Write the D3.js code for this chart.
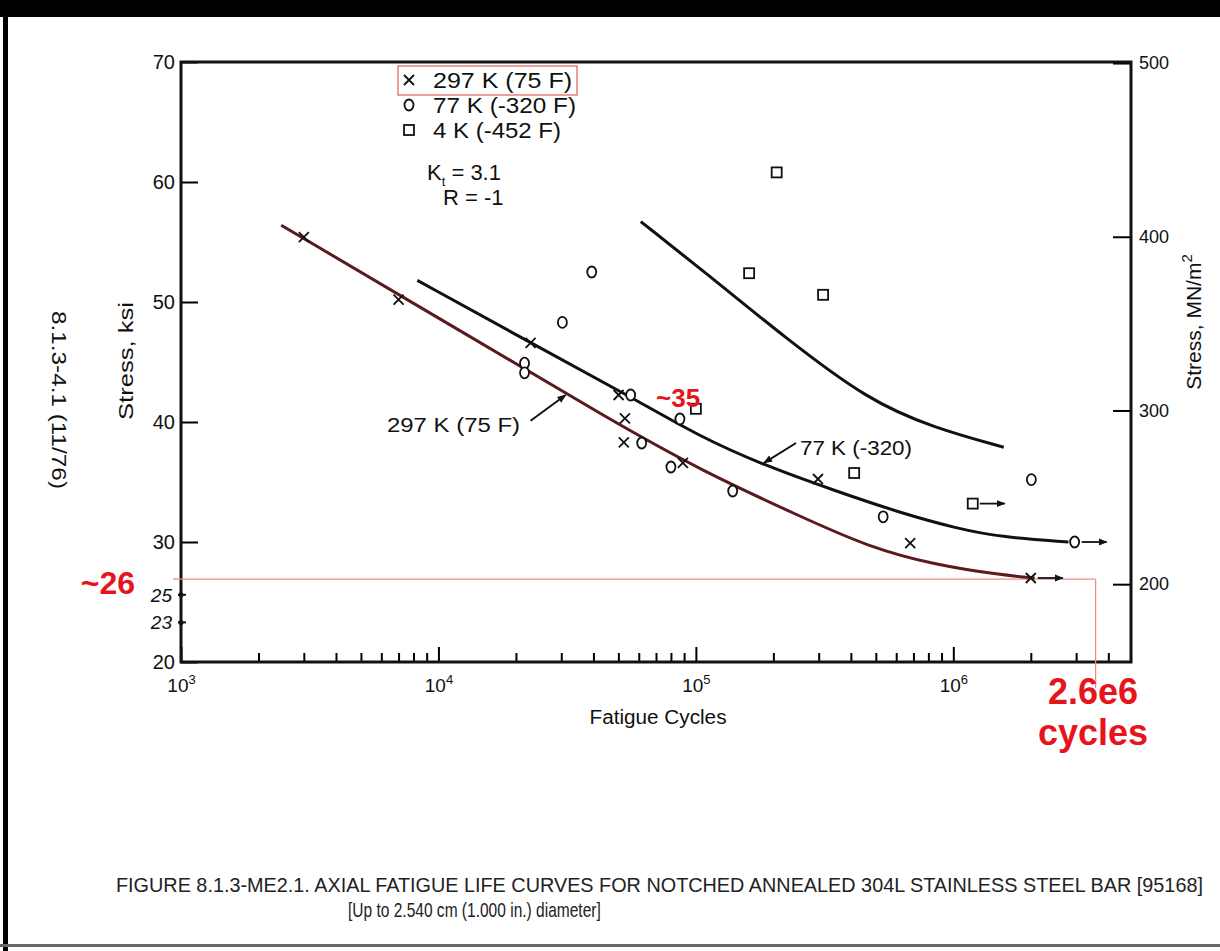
<!DOCTYPE html>
<html>
<head>
<meta charset="utf-8">
<script src="https://cdn.jsdelivr.net/npm/d3@7"></script>
<style>
body { margin: 0; background: #fff; }
text { font-family: "Liberation Sans", Arial, sans-serif; fill: #111; }
</style>
</head>
<body>
<svg width="1220" height="951"></svg>
<script>
// ---- data (cycles, ksi, runout?) ----
var pts297 = [[3.0e3, 55.4], [7.0e3, 50.2], [2.28e4, 46.6], [5.01e4, 42.25], [5.3e4, 40.3],
              [5.25e4, 38.3], [8.9e4, 36.6], [2.98e5, 35.25], [6.8e5, 29.9], [2.0e6, 27.0, true]];
var pts77 = [[2.16e4, 44.9], [2.16e4, 44.1], [3.03e4, 48.3], [3.94e4, 52.5], [5.58e4, 42.25],
             [6.16e4, 38.25], [8.0e4, 36.25], [8.67e4, 40.25], [1.39e5, 34.25], [5.34e5, 32.1],
             [2.01e6, 35.2], [2.96e6, 30.0, true]];
var pts4 = [[1.0e5, 41.1], [1.61e5, 52.4], [2.06e5, 60.8], [3.12e5, 50.6], [4.12e5, 35.75],
            [1.19e6, 33.2, true]];

var curve297 = [[2.45e3, 56.4], [1.11e4, 48.1], [4.8e4, 40.0], [1.04e5, 36.0], [2.56e5, 32.1],
                [4.67e5, 29.6], [8.43e5, 28.1], [1.54e6, 27.25], [2.07e6, 27.0]];
var curve77 = [[8.28e3, 51.8], [2.28e4, 46.6], [5.58e4, 42.1], [1.04e5, 38.75], [1.84e5, 36.4],
               [3.44e5, 34.3], [6.28e5, 32.4], [1.045e6, 31.1], [1.54e6, 30.4], [2.8e6, 30.0]];
var curve4 = [[6.11e4, 56.7], [1.22e5, 51.6], [2.2e5, 47.1], [4.67e5, 41.8], [8.43e5, 39.5],
              [1.57e6, 37.9]];

var ksiTicks = [70, 60, 50, 40, 30, 20];
var mpaTicks = [500, 400, 300, 200];
var decades = [1e3, 1e4, 1e5, 1e6];
var legendNames = ["297 K (75 F)", "77 K (-320 F)", "4 K (-452 F)"];
var handTicks = [[25.6, "25"], [23.3, "23"]];
var annoStress = 26.9, annoCycles = 3.57e6;
var caption = ["FIGURE 8.1.3-ME2.1.  AXIAL FATIGUE LIFE CURVES FOR NOTCHED ANNEALED 304L STAINLESS STEEL BAR [95168]",
               "[Up to 2.540 cm (1.000 in.) diameter]"];

var svg = d3.select("svg");

// page frame of the scan
svg.append("rect").attr("x", 0).attr("y", 0).attr("width", 1220).attr("height", 17).attr("fill", "#000");
svg.append("rect").attr("x", 3).attr("y", 0).attr("width", 5).attr("height", 951).attr("fill", "#000");
svg.append("rect").attr("x", 0).attr("y", 944).attr("width", 1220).attr("height", 3).attr("fill", "#666");

var x = d3.scaleLog().domain([1e3, 4.9e6]).range([181, 1131]);
var y = d3.scaleLinear().domain([20, 70]).range([662, 62]);
var yMpa = d3.scaleLinear().domain([155.2, 500.6]).range([662, 62]);

// minor + major x ticks, pointing up into the plot
var xTicks = [];
decades.forEach(function(d) { for (var k = 1; k < 10; k++) if (d * k < 4.9e6) xTicks.push(d * k); });

var gx = svg.append("g").attr("transform", "translate(0,662)")
  .call(d3.axisBottom(x).tickValues(xTicks).tickSize(-9).tickFormat(""));
gx.select(".domain").remove();
gx.selectAll(".tick line").attr("stroke-width", 2)
  .filter(function(d) { return decades.indexOf(d) >= 0; }).attr("y2", -15);
gx.selectAll(".tick").filter(function(d) { return decades.indexOf(d) >= 0; })
  .append("text").attr("y", 30).attr("text-anchor", "middle").attr("font-size", 19).style("fill", "#111")
  .each(function(d) {
    var t = d3.select(this);
    t.append("tspan").text("10");
    t.append("tspan").attr("dy", -8).attr("font-size", 13).text(Math.round(Math.log10(d)));
  });

var gl = svg.append("g").attr("transform", "translate(181,0)")
  .call(d3.axisLeft(y).tickValues(ksiTicks).tickSize(-17).tickPadding(6));
gl.select(".domain").remove();
gl.selectAll(".tick line").attr("stroke-width", 2);
gl.selectAll(".tick text").attr("font-size", 20).style("fill", "#111");

var gr = svg.append("g").attr("transform", "translate(1131,0)")
  .call(d3.axisRight(yMpa).tickValues(mpaTicks).tickSize(-18).tickPadding(8));
gr.select(".domain").remove();
gr.selectAll(".tick line").attr("stroke-width", 2);
gr.selectAll(".tick text").attr("font-size", 18).style("fill", "#111");

// plot frame
svg.append("rect").attr("x", 181).attr("y", 62).attr("width", 950).attr("height", 600)
  .attr("fill", "none").attr("stroke", "#111").attr("stroke-width", 3);

// hand written ticks on left axis
handTicks.forEach(function(h) {
  svg.append("line").attr("x1", 178).attr("x2", 186).attr("y1", y(h[0])).attr("y2", y(h[0]))
    .attr("stroke", "#111").attr("stroke-width", 2);
  svg.append("circle").attr("cx", 181).attr("cy", y(h[0])).attr("r", 2.5).attr("fill", "#111");
  svg.append("text").attr("x", 172).attr("y", y(h[0]) + 7).attr("text-anchor", "end")
    .attr("font-size", 19).attr("font-family", "DejaVu Sans").attr("font-style", "italic")
    .text(h[1]);
});

// red annotation lines
svg.append("line").attr("x1", 173).attr("x2", x(annoCycles)).attr("y1", y(annoStress)).attr("y2", y(annoStress))
  .attr("stroke", "#f08a8a").attr("stroke-width", 1.3);
svg.append("line").attr("x1", x(annoCycles)).attr("x2", x(annoCycles)).attr("y1", y(annoStress)).attr("y2", 688)
  .attr("stroke", "#f08a8a").attr("stroke-width", 1.3);

// arrow head marker
svg.append("defs").append("marker").attr("id", "ah").attr("viewBox", "0 0 10 10")
  .attr("refX", 9).attr("refY", 5).attr("markerWidth", 9).attr("markerHeight", 9)
  .attr("markerUnits", "userSpaceOnUse").attr("orient", "auto")
  .append("path").attr("d", "M0,1 L10,5 L0,9 Z").attr("fill", "#111");

// curves
var line = d3.line().x(function(d) { return x(d[0]); }).y(function(d) { return y(d[1]); })
  .curve(d3.curveBasis);
svg.append("path").datum(curve297).attr("d", line).attr("fill", "none")
  .attr("stroke", "#5a1a1e").attr("stroke-width", 3);
svg.append("path").datum(curve77).attr("d", line).attr("fill", "none")
  .attr("stroke", "#111").attr("stroke-width", 3);
svg.append("path").datum(curve4).attr("d", line).attr("fill", "none")
  .attr("stroke", "#111").attr("stroke-width", 3);

// markers
function drawX(g, cx, cy) {
  g.append("path").attr("d", "M" + (cx - 5) + "," + (cy - 5) + "L" + (cx + 5) + "," + (cy + 5) +
    "M" + (cx - 5) + "," + (cy + 5) + "L" + (cx + 5) + "," + (cy - 5))
    .attr("stroke", "#111").attr("stroke-width", 1.8).attr("fill", "none");
}
function drawO(g, cx, cy) {
  g.append("ellipse").attr("cx", cx).attr("cy", cy).attr("rx", 4.5).attr("ry", 5.5)
    .attr("fill", "#fff").attr("stroke", "#111").attr("stroke-width", 1.8);
}
function drawSq(g, cx, cy) {
  g.append("rect").attr("x", cx - 5).attr("y", cy - 5).attr("width", 10).attr("height", 10)
    .attr("fill", "#fff").attr("stroke", "#111").attr("stroke-width", 1.8);
}
function runout(g, cx, cy, len) {
  g.append("line").attr("x1", cx + 7).attr("x2", cx + len).attr("y1", cy).attr("y2", cy)
    .attr("stroke", "#111").attr("stroke-width", 1.8).attr("marker-end", "url(#ah)");
}

var gm = svg.append("g");
[[pts297, drawX], [pts77, drawO], [pts4, drawSq]].forEach(function(s) {
  s[0].forEach(function(p) {
    s[1](gm, x(p[0]), y(p[1]));
    if (p[2]) runout(gm, x(p[0]), y(p[1]), 32);
  });
});

// legend
var lg = svg.append("g");
[drawX, drawO, drawSq].forEach(function(f, i) {
  f(lg, 409, 80 + i * 25);
  lg.append("text").attr("x", 433).attr("y", 88 + i * 25).attr("font-size", 22)
    .attr("textLength", [139, 143, 128][i]).attr("lengthAdjust", "spacingAndGlyphs").text(legendNames[i]);
});
lg.append("rect").attr("x", 398).attr("y", 66).attr("width", 179).attr("height", 29)
  .attr("fill", "none").attr("stroke", "#e06060").attr("stroke-width", 1.2);

var kt = lg.append("text").attr("x", 427).attr("y", 180).attr("font-size", 22);
kt.append("tspan").text("K");
kt.append("tspan").attr("dy", 6).attr("font-size", 13).text("t");
kt.append("tspan").attr("dy", -6).text(" = 3.1");
lg.append("text").attr("x", 443).attr("y", 205).attr("font-size", 22).text("R  = -1");

// curve labels with pointer arrows
svg.append("line").attr("x1", x(2.28e4)).attr("y1", y(40.1)).attr("x2", x(3.12e4)).attr("y2", y(42.25))
  .attr("stroke", "#111").attr("stroke-width", 2).attr("marker-end", "url(#ah)");
svg.append("text").attr("x", 520).attr("y", 432).attr("text-anchor", "end").attr("font-size", 20)
  .attr("textLength", 133).attr("lengthAdjust", "spacingAndGlyphs").text("297 K  (75 F)");
svg.append("line").attr("x1", x(2.45e5)).attr("y1", y(38.25)).attr("x2", x(1.84e5)).attr("y2", y(36.6))
  .attr("stroke", "#111").attr("stroke-width", 2).attr("marker-end", "url(#ah)");
svg.append("text").attr("x", 800).attr("y", 455).attr("font-size", 20)
  .attr("textLength", 112).attr("lengthAdjust", "spacingAndGlyphs").text("77 K (-320)");

// axis titles
svg.append("text").attr("transform", "translate(133,361) rotate(-90)").attr("text-anchor", "middle")
  .attr("font-size", 20).attr("textLength", 118).attr("lengthAdjust", "spacingAndGlyphs").text("Stress,  ksi");
svg.append("text").attr("transform", "translate(1201,322) rotate(-90)").attr("text-anchor", "middle")
  .attr("font-size", 21).html("Stress,    MN/m<tspan dy='-9' font-size='15'>2</tspan>");
svg.append("text").attr("transform", "translate(52,400) rotate(90)").attr("text-anchor", "middle")
  .attr("font-size", 21).attr("textLength", 178).attr("lengthAdjust", "spacingAndGlyphs").text("8.1.3-4.1 (11/76)");
svg.append("text").attr("x", 658).attr("y", 724).attr("text-anchor", "middle").attr("font-size", 20)
  .attr("textLength", 137).attr("lengthAdjust", "spacingAndGlyphs").text("Fatigue  Cycles");

// red hand annotations
svg.append("text").attr("x", 135).attr("y", 594).attr("text-anchor", "end").attr("font-size", 32)
  .attr("font-weight", "bold").style("fill", "#e8141b").text("~26");
svg.append("text").attr("x", 656).attr("y", 407).attr("font-size", 26)
  .attr("font-weight", "bold").style("fill", "#e8141b").text("~35");
svg.append("text").attr("x", 1093).attr("y", 704).attr("text-anchor", "middle").attr("font-size", 36)
  .attr("font-weight", "bold").style("fill", "#e8141b").text("2.6e6");
svg.append("text").attr("x", 1093).attr("y", 745).attr("text-anchor", "middle").attr("font-size", 36)
  .attr("font-weight", "bold").style("fill", "#e8141b").text("cycles");

// caption: condensed by horizontal scaling to the scanned width
[[116, 892, 21, 1088], [348, 917, 20, 253]].forEach(function(c, i) {
  var t = svg.append("text").attr("font-size", c[2]).style("fill", "#222").text(caption[i]);
  var w = t.node().getComputedTextLength();
  t.attr("transform", "translate(" + c[0] + "," + c[1] + ") scale(" + (c[3] / w) + ",1)");
});
</script>
</body>
</html>
